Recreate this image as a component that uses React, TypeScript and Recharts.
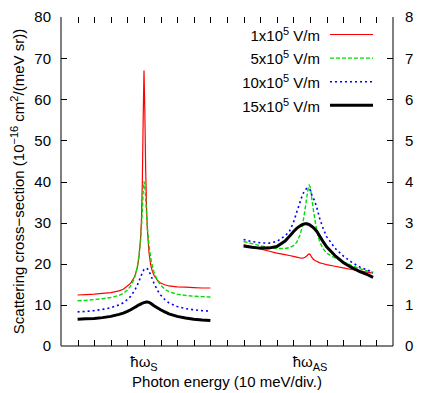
import React from 'react';
import { LineChart, Line, XAxis, YAxis, Legend } from 'recharts';

// ---- data ----
const stokesX = [1, 1.5, 2, 2.5, 3, 3.5, 3.75, 4, 4.2, 4.4, 4.5, 4.6, 4.7, 4.8, 4.85, 4.9, 4.95, 5, 5.05, 5.1, 5.15, 5.2, 5.3, 5.4, 5.5, 5.6, 5.8, 6, 6.25, 6.5, 7, 7.5, 8, 8.5, 9];
const redStokes = [12.4, 12.5, 12.6, 12.8, 13.0, 13.4, 13.8, 14.6, 15.3, 16.6, 17.6, 19.2, 21.8, 26.5, 31, 40, 55, 67, 57, 43, 34, 28.5, 22.8, 19.8, 18.2, 17.2, 16, 15.3, 14.9, 14.6, 14.4, 14.3, 14.2, 14.1, 14.1];
const greenStokes = [11.0, 11.1, 11.3, 11.5, 11.8, 12.3, 12.8, 13.6, 14.6, 16.3, 17.5, 19.3, 22, 26, 29, 33, 37.5, 40, 39, 36, 32.5, 29, 24.5, 21.5, 19.5, 18, 16, 14.8, 13.8, 13.2, 12.6, 12.3, 12.1, 12.0, 11.9];
const blueStokes = [8.3, 8.4, 8.6, 8.9, 9.3, 10.0, 10.5, 11.3, 12.1, 13.3, 14.0, 14.8, 15.8, 16.8, 17.3, 17.8, 18.2, 18.6, 18.8, 18.9, 18.9, 18.8, 18.2, 17.3, 16.3, 15.3, 13.6, 12.4, 11.3, 10.5, 9.6, 9.1, 8.8, 8.6, 8.5];
const blackStokes = [6.5, 6.6, 6.7, 6.9, 7.2, 7.7, 8.0, 8.4, 8.8, 9.3, 9.5, 9.8, 10.0, 10.2, 10.3, 10.4, 10.5, 10.55, 10.6, 10.65, 10.7, 10.7, 10.6, 10.4, 10.1, 9.8, 9.3, 8.8, 8.3, 7.8, 7.2, 6.8, 6.5, 6.3, 6.2];

const antiStokesX = [11, 11.5, 12, 12.5, 13, 13.5, 13.75, 14, 14.2, 14.4, 14.5, 14.6, 14.7, 14.8, 14.9, 14.95, 15, 15.05, 15.1, 15.2, 15.3, 15.4, 15.5, 15.6, 15.8, 16, 16.5, 17, 17.5, 18, 18.5, 18.8];
const redAntiStokes = [24.6, 24.1, 23.6, 23.1, 22.6, 22.2, 22.0, 21.8, 21.6, 21.4, 21.35, 21.4, 21.6, 21.9, 22.3, 22.4, 22.3, 22.0, 21.6, 21.1, 20.8, 20.6, 20.4, 20.2, 20.0, 19.8, 19.4, 19.0, 18.6, 18.3, 17.9, 17.7];
const greenAntiStokes = [25.4, 24.9, 24.4, 24.0, 23.7, 23.7, 23.9, 24.4, 25.2, 27, 28.5, 30.6, 33.2, 36, 38.5, 39.1, 38.8, 37.8, 36, 33.2, 30.6, 28.2, 26.5, 25.2, 23.6, 22.6, 21.4, 20.5, 19.6, 18.8, 18.2, 17.9];
const blueAntiStokes = [25.9, 25.4, 25.1, 25.0, 25.4, 26.8, 27.8, 30, 32.5, 35, 36.2, 37.2, 37.9, 38.3, 38.4, 38.3, 38.0, 37.5, 36.8, 36, 35, 33.8, 32.3, 30.8, 28.5, 26.6, 23.8, 21.9, 20.4, 19.2, 18.4, 17.9];
const blackAntiStokes = [24.3, 24.0, 23.8, 23.8, 24.2, 25.5, 26.6, 27.8, 28.6, 29.2, 29.45, 29.6, 29.7, 29.7, 29.6, 29.5, 29.4, 29.25, 29.1, 28.8, 28.4, 27.9, 27.3, 26.6, 25.3, 24.1, 22, 20.3, 19.1, 18.1, 17.3, 16.7];

const seriesNames = ['1x10|5| V/m', '5x10|5| V/m', '10x10|5| V/m', '15x10|5| V/m'];
const seriesColors = ['#ff0000', '#00dd00', '#0000ff', '#000000'];
const seriesWidths = [1.2, 1.4, 1.6, 3];
const seriesDash = [undefined, '4 2', '2 3', undefined];

const leftTicks = [0, 10, 20, 30, 40, 50, 60, 70, 80];
const rightTicks = [0, 1, 2, 3, 4, 5, 6, 7, 8];
const xTicks = Array.from({ length: 21 }, (_, i) => i);
const xTickLabels: Record<number, [string, string]> = { 5: ['ħω', 'S'], 15: ['ħω', 'AS'] };

const X_MIN = 0;
const X_MAX = 20;
const Y_MIN = 0;
const Y_MAX = 80;

// chart geometry
const W = 436;
const H = 393;
const LEFT_W = 61;
const RIGHT_W = 43;
const TOP_M = 17;
const BOTTOM_H = 47;
const PLOT_L = LEFT_W;
const PLOT_R = W - RIGHT_W;
const PLOT_T = TOP_M;
const PLOT_B = H - BOTTOM_H;
const TICK = 6;

const stokesSeries = [redStokes, greenStokes, blueStokes, blackStokes];
const antiStokesSeries = [redAntiStokes, greenAntiStokes, blueAntiStokes, blackAntiStokes];

const toPoints = (xs: number[], ys: number[]) => xs.map((x, i) => ({ x, y: ys[i] }));

const FONT = '"Liberation Sans", Arial, Helvetica, sans-serif';

const LeftTick = (props: any) => {
  const { x, y, payload } = props;
  return (
    <text x={x - 10} y={y} dy="0.36em" textAnchor="end" fontSize={15} fontFamily={FONT} fill="#000">
      {payload.value}
    </text>
  );
};

const RightTick = (props: any) => {
  const { x, y, payload } = props;
  return (
    <text x={x + 12} y={y} dy="0.36em" textAnchor="start" fontSize={15} fontFamily={FONT} fill="#000">
      {payload.value}
    </text>
  );
};

const BottomTick = (props: any) => {
  const { x, y, payload } = props;
  const lab = xTickLabels[payload.value];
  if (!lab) return <g />;
  return (
    <text x={x} y={y + 21} textAnchor="middle" fontSize={15} fontFamily={FONT} fill="#000">
      {lab[0]}
      <tspan dy={4} fontSize={11}>{lab[1]}</tspan>
    </text>
  );
};

const NoTick = () => <g />;

const renderLabelText = (s: string) => {
  const parts = s.split('|');
  return (
    <>
      {parts[0]}
      <tspan dy={-6} fontSize={11}>{parts[1]}</tspan>
      <tspan dy={6}>{parts[2]}</tspan>
    </>
  );
};

const LegendBox = () => (
  <svg width={436} height={130} style={{ position: 'absolute', left: 0, top: 0, pointerEvents: 'none' }}>
    {seriesNames.map((name, i) => {
      const base = 40.7 + i * 23.6;
      const ly = 34.5 + i * 23.6;
      return (
        <g key={name}>
          <text x={320} y={base} textAnchor="end" fontSize={15} fontFamily={FONT} fill="#000">
            {renderLabelText(name)}
          </text>
          <line x1={330} x2={373} y1={ly} y2={ly} stroke={seriesColors[i]} strokeWidth={seriesWidths[i]} strokeDasharray={seriesDash[i]} />
        </g>
      );
    })}
  </svg>
);

// inward tick marks overlay, positioned from the same axis domains and plot geometry
const sx = (v: number) => PLOT_L + ((v - X_MIN) / (X_MAX - X_MIN)) * (PLOT_R - PLOT_L);
const sy = (v: number) => PLOT_B - ((v - Y_MIN) / (Y_MAX - Y_MIN)) * (PLOT_B - PLOT_T);
const snap = (v: number) => Math.round(v) + 0.5;

const TickOverlay = () => (
  <svg width={W} height={H} style={{ position: 'absolute', left: 0, top: 0, pointerEvents: 'none' }}>
    {xTicks.filter((t) => t > X_MIN && t < X_MAX).map((t) => {
      const x = snap(sx(t));
      return (
        <g key={'x' + t}>
          <line x1={x} x2={x} y1={PLOT_B} y2={PLOT_B - TICK} stroke="#000" strokeWidth={1} />
          <line x1={x} x2={x} y1={PLOT_T} y2={PLOT_T + TICK} stroke="#000" strokeWidth={1} />
        </g>
      );
    })}
    {leftTicks.filter((t) => t > Y_MIN && t < Y_MAX).map((t) => {
      const y = snap(sy(t));
      return (
        <g key={'y' + t}>
          <line x1={PLOT_L} x2={PLOT_L + TICK} y1={y} y2={y} stroke="#000" strokeWidth={1} />
          <line x1={PLOT_R} x2={PLOT_R - TICK} y1={y} y2={y} stroke="#000" strokeWidth={1} />
        </g>
      );
    })}
  </svg>
);

const YLabel = (props: any) => {
  const { viewBox } = props;
  const cy = viewBox.y + viewBox.height / 2;
  const cx = 24;
  return (
    <text transform={`rotate(-90, ${cx}, ${cy})`} x={cx} y={cy} textAnchor="middle" fontSize={15} fontFamily={FONT} fill="#000">
      Scattering cross−section (10
      <tspan dy={-6} fontSize={11}>−16</tspan>
      <tspan dy={6}> cm</tspan>
      <tspan dy={-6} fontSize={11}>2</tspan>
      <tspan dy={6}>/(meV sr))</tspan>
    </text>
  );
};

export default function App() {
  return (
    <div style={{ position: 'absolute', left: 0, top: 0, width: W, height: H, background: '#fff' }}>
      <LineChart width={W} height={H} margin={{ top: TOP_M, right: 0, bottom: 0, left: 0 }}>
        <XAxis
          xAxisId="bottom"
          dataKey="x"
          type="number"
          domain={[X_MIN, X_MAX]}
          ticks={xTicks}
          interval={0}
          height={BOTTOM_H}
          tickSize={0}
          tickMargin={0}
          tickLine={false}
          tick={<BottomTick />}
          axisLine={{ stroke: '#555', strokeWidth: 1.5 }}
          label={{ value: 'Photon energy (10 meV/div.)', position: 'insideBottom', offset: 6, fontSize: 15, fontFamily: FONT, fill: '#000' }}
          allowDataOverflow
        />
        <XAxis
          xAxisId="top"
          orientation="top"
          dataKey="x"
          type="number"
          domain={[X_MIN, X_MAX]}
          ticks={xTicks}
          interval={0}
          height={0}
          tickSize={0}
          tickMargin={0}
          tickLine={false}
          tick={<NoTick />}
          axisLine={{ stroke: '#000', strokeWidth: 1 }}
          allowDataOverflow
        />
        <YAxis
          yAxisId="left"
          type="number"
          domain={[Y_MIN, Y_MAX]}
          ticks={leftTicks}
          interval={0}
          width={LEFT_W}
          tickSize={0}
          tickMargin={0}
          tickLine={false}
          tick={<LeftTick />}
          axisLine={{ stroke: '#555', strokeWidth: 1.5 }}
          label={<YLabel />}
          allowDataOverflow
        />
        <YAxis
          yAxisId="right"
          orientation="right"
          type="number"
          domain={[0, 8]}
          ticks={rightTicks}
          interval={0}
          width={RIGHT_W}
          tickSize={0}
          tickMargin={0}
          tickLine={false}
          tick={<RightTick />}
          axisLine={{ stroke: '#000', strokeWidth: 1 }}
          allowDataOverflow
        />
        <Legend verticalAlign="middle" align="center" layout="horizontal" wrapperStyle={{ position: 'absolute', left: 0, top: 0, width: 436, height: 0 }} content={() => <LegendBox />} />
        {stokesSeries.map((ys, i) => (
          <Line
            key={'s' + i}
            xAxisId="bottom"
            yAxisId="left"
            data={toPoints(stokesX, ys)}
            dataKey="y"
            type="linear"
            stroke={seriesColors[i]}
            strokeWidth={seriesWidths[i]}
            strokeDasharray={seriesDash[i]}
            dot={false}
            activeDot={false}
            isAnimationActive={false}
            legendType="none"
          />
        ))}
        {antiStokesSeries.map((ys, i) => (
          <Line
            key={'a' + i}
            xAxisId="bottom"
            yAxisId="left"
            data={toPoints(antiStokesX, ys)}
            dataKey="y"
            type="linear"
            stroke={seriesColors[i]}
            strokeWidth={seriesWidths[i]}
            strokeDasharray={seriesDash[i]}
            dot={false}
            activeDot={false}
            isAnimationActive={false}
            legendType="none"
          />
        ))}
      </LineChart>
      <TickOverlay />
    </div>
  );
}
